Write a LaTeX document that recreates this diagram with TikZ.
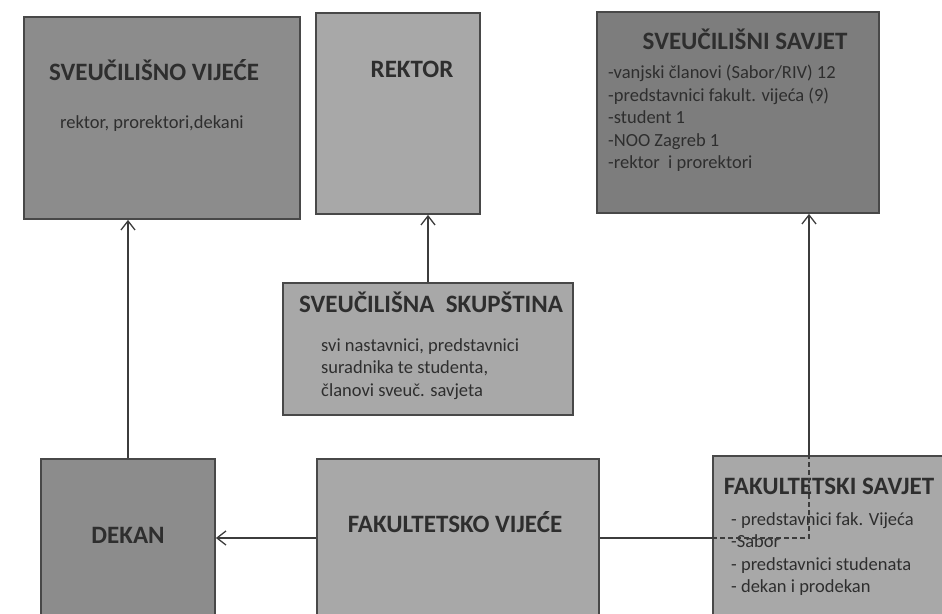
\documentclass[tikz,border=0pt]{standalone}
\usepackage{fontspec}
\setmainfont{Carlito}
\usetikzlibrary{arrows.meta}

\definecolor{boxline}{HTML}{484848}
\definecolor{ink}{HTML}{2E2E2E}
\definecolor{wiregray}{HTML}{3C3C3C}
\definecolor{darkfill}{HTML}{7D7D7D}
\definecolor{midfill}{HTML}{8C8C8C}
\definecolor{lightfill}{HTML}{A8A8A8}

\tikzset{
  box/.style={draw=boxline, line width=1.8pt, inner sep=0pt},
  head/.style={font=\bfseries\fontsize{25}{30}\selectfont, text=ink, inner sep=0pt, text height=16pt, text depth=0pt},
  body/.style={font=\fontsize{18.5}{22.5}\selectfont, text=ink, align=left, anchor=north west, inner sep=0pt},
  wire/.style={draw=wiregray, line width=1.2pt},
  link/.style={wire, -{Straight Barb[length=9pt,width=14pt,line width=1.3pt]}},
}

\begin{document}
\begin{tikzpicture}[x=1pt,y=1pt]
    \clip (0,0) rectangle (942,613);

    % gornji red
    \node[box, fill=midfill, minimum width=276pt, minimum height=202pt] (sv) at (162,495) {};
    \node[box, fill=lightfill, minimum width=164pt, minimum height=201pt] (rektor) at (398,499.5) {};
    \node[box, fill=darkfill, minimum width=282pt, minimum height=201pt] (ssavjet) at (738,500.5) {};

    % sredina
    \node[box, fill=lightfill, minimum width=290pt, minimum height=132pt] (skup) at (428,264) {};

    % donji red
    \node[box, fill=midfill, minimum width=174pt, minimum height=158pt] (dekan) at (128,75) {};
    \node[box, fill=lightfill, minimum width=282pt, minimum height=158pt] (fv) at (458,75) {};
    \node[box, fill=lightfill, minimum width=237pt, minimum height=164pt] (fs) at (831.5,75) {};

    \node[head] (svhead) at (154,540) {SVEUČILIŠNO VIJEĆE};
    \node[body] (svtext) at (60,498) {rektor, prorektori,dekani};

    \node[head] (rekhead) at (412,543) {REKTOR};

    \node[head] (ssavhead) at (745,571) {SVEUČILIŠNI SAVJET};
    \node[body] (ssavtext) at (608,548) {-vanjski članovi (Sabor/RIV) 12\\-predstavnici fakult. vijeća (9)\\-student 1\\-NOO Zagreb 1\\-rektor\ \ i prorektori};

    \node[head] (skuphead) at (431,308) {SVEUČILIŠNA\ \ SKUPŠTINA};
    \node[body] (skuptext) at (321,275) {svi nastavnici, predstavnici\\suradnika te studenta,\\članovi sveuč. savjeta};

    \node[head] (dekhead) at (128,77) {DEKAN};
    \node[head] (fvhead) at (455,88) {FAKULTETSKO VIJEĆE};

    \node[head] (fshead) at (829,126) {FAKULTETSKI SAVJET};
    \node[body] (fstext) at (731,101) {- predstavnici fak. Vijeća\\-Sabor\\- predstavnici studenata\\- dekan i prodekan};

    % veze
    \draw[link] (dekan.north) -- (dekan.north |- sv.south);
    \draw[link] (skup.north) -- (skup.north |- rektor.south);
    \draw[link] (fv.west) -- (fv.west -| dekan.east);

    \coordinate (bend) at (809,75);
    \draw[wire] (fv.east) -- (fs.west |- bend);
    \draw[wire, dash pattern=on 5pt off 3pt] (fs.west |- bend) -- (bend) -- (bend |- fs.north);
    \draw[link] (bend |- fs.north) -- (bend |- ssavjet.south);
\end{tikzpicture}
\end{document}
